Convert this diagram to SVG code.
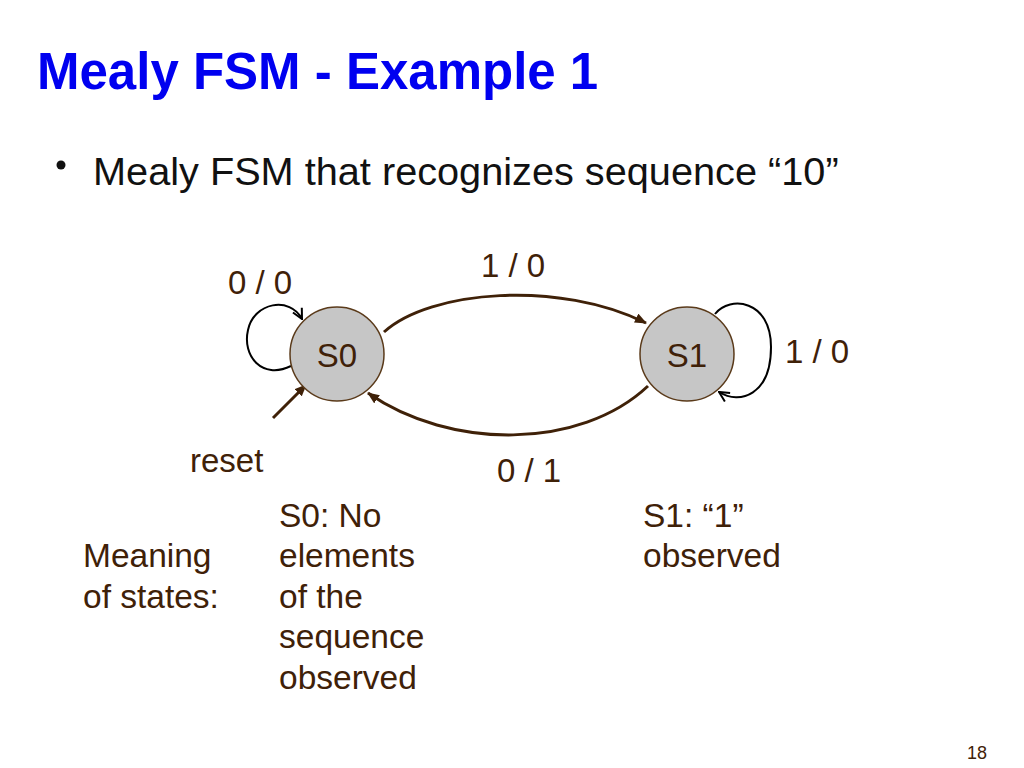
<svg xmlns="http://www.w3.org/2000/svg" width="1024" height="768" viewBox="0 0 1024 768">
<style>
.title{font-family:"Liberation Sans",Arial,sans-serif;font-weight:bold;font-size:51px;fill:#0000f0}
.body{font-family:"Liberation Sans",Arial,sans-serif;font-size:39.7px;fill:#111}
.lbl{font-family:"Liberation Sans",Arial,sans-serif;font-size:33px;fill:#3f2108}
.txt{font-family:"Liberation Sans",Arial,sans-serif;font-size:33.5px;fill:#3f2108}
.num{font-family:"Liberation Sans",Arial,sans-serif;font-size:18px;fill:#3f2108}
.state{fill:#c6c6c6;stroke:#5a3a1a;stroke-width:1.5}
.edge{fill:none;stroke:#3f2108;stroke-width:3}
.loop{fill:none;stroke:#000;stroke-width:2}
</style>
<defs>
<marker id="ah" viewBox="0 0 12 10" refX="11" refY="5" markerWidth="12" markerHeight="10" markerUnits="userSpaceOnUse" orient="auto">
<path d="M0,0 L12,5 L0,10 Z" fill="#3f2108"/>
</marker>
<marker id="oh" viewBox="0 0 12 12" refX="11" refY="6" markerWidth="12" markerHeight="12" markerUnits="userSpaceOnUse" orient="auto">
<path d="M1,1 L11,6 L1,11" fill="none" stroke="#000" stroke-width="2"/>
</marker>
</defs>
<text class="title" x="37" y="89">Mealy FSM - Example 1</text>
<circle cx="61" cy="165" r="4.5" fill="#111"/>
<text class="body" x="93" y="185">Mealy FSM that recognizes sequence “10”</text>
<g id="connectors">
<path id="e-s0-s1" class="edge" d="M384,332 C430,290 560,280 646,323" marker-end="url(#ah)"/>
<path id="e-s1-s0" class="edge" d="M648,386 C580,450 450,450 368,393" marker-end="url(#ah)"/>
<path id="e-reset" class="edge" d="M273,418 L306,385" marker-end="url(#ah)"/>
<path id="e-s0-loop" class="loop" d="M291,366 C262,380 242,356 248,330 C254,302 290,296 302,319" marker-end="url(#oh)"/>
<path id="e-s1-loop" class="loop" d="M715,314 C730,295 771,300 771,347 C771,395 740,405 719,392" marker-end="url(#oh)"/>
</g>
<g id="S0">
<circle class="state" cx="337" cy="354" r="47"/>
<text class="lbl" x="337" y="367" text-anchor="middle">S0</text>
</g>
<g id="S1">
<circle class="state" cx="687" cy="354" r="47"/>
<text class="lbl" x="687" y="367" text-anchor="middle">S1</text>
</g>
<g id="labels">
<text class="lbl" x="228" y="294">0 / 0</text>
<text class="lbl" x="481" y="277">1 / 0</text>
<text class="lbl" x="785" y="363">1 / 0</text>
<text class="lbl" x="497" y="482">0 / 1</text>
<text class="lbl" x="190" y="472">reset</text>
</g>
<g id="meaning">
<text class="txt" x="83" y="567">Meaning</text>
<text class="txt" x="83" y="608">of states:</text>
<text class="txt" x="279" y="527">S0: No</text>
<text class="txt" x="279" y="567">elements</text>
<text class="txt" x="279" y="608">of the</text>
<text class="txt" x="279" y="648">sequence</text>
<text class="txt" x="279" y="689">observed</text>
<text class="txt" x="643" y="527">S1: “1”</text>
<text class="txt" x="643" y="567">observed</text>
</g>
<text class="num" x="967" y="759">18</text>
</svg>
